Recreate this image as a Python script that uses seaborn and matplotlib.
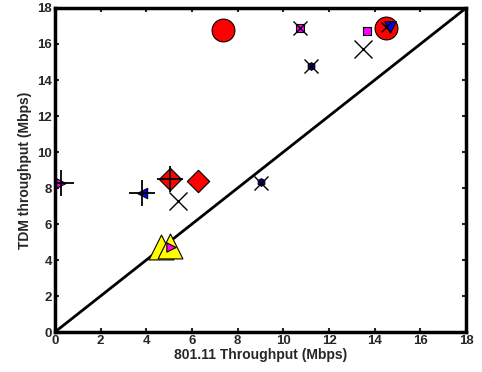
import matplotlib
matplotlib.use("Agg")
import matplotlib.pyplot as plt
import seaborn as sns
import pandas as pd

sns.set_style("white")
plt.rcParams['font.family'] = ['Liberation Sans', 'DejaVu Sans']
plt.rcParams['font.weight'] = 'bold'

# data points: x (802.11 throughput), y (TDM throughput)
red_circle_x = [7.35, 14.5]
red_circle_y = [16.75, 16.9]
red_diamond_x = [6.25, 5.05]
red_diamond_y = [8.4, 8.5]
yellow_tri_x = [4.65, 5.05]
yellow_tri_y = [4.75, 4.8]
blue_left_x = [3.8]
blue_left_y = [7.7]
magenta_right_x = [0.25, 5.1]
magenta_right_y = [8.3, 4.75]
magenta_sq_x = [13.65, 10.75]
magenta_sq_y = [16.7, 16.9]
navy_x = [11.2, 9.0]
navy_y = [14.8, 8.35]
blue_down_x = [14.65]
blue_down_y = [16.95]
cross_x = [13.5, 5.4, 10.75, 11.2, 9.0, 14.5]
cross_y = [15.7, 7.3, 16.9, 14.8, 8.3, 16.95]
cross_size = [13, 13, 10, 10, 10, 7]
plus_x = [5.05, 3.8, 0.25]
plus_y = [8.5, 7.7, 8.3]
diag = [0, 18]

fig = plt.figure(figsize=(4.82, 3.72), dpi=100)
ax = fig.add_axes([0.114, 0.1075, 0.853, 0.871])

ax.plot(diag, diag, color='black', lw=2)

def sc(xs, ys, marker, color, size, ec='black', lw=0.8):
    df = pd.DataFrame({'x': xs, 'y': ys})
    sns.scatterplot(data=df, x='x', y='y', marker=marker, color=color, s=size,
                    edgecolor=ec, linewidth=lw, ax=ax, zorder=3)

sc(red_circle_x, red_circle_y, 'o', 'red', 270)
sc(red_diamond_x, red_diamond_y, 'D', 'red', 130)
sc(yellow_tri_x, yellow_tri_y, '^', 'yellow', 320)
sc(blue_left_x, blue_left_y, '<', 'blue', 55)
sc(magenta_right_x, magenta_right_y, '>', 'magenta', 45)
sc(magenta_sq_x, magenta_sq_y, 's', 'magenta', 30)
sc(navy_x, navy_y, 'h', '#0000aa', 30)
sc(blue_down_x, blue_down_y, 'v', 'blue', 70)

for x, y, s in zip(cross_x, cross_y, cross_size):
    ax.plot([x], [y], marker='x', color='black', ms=s, mew=1, ls='none', zorder=4)
for x, y in zip(plus_x, plus_y):
    ax.plot([x], [y], marker='+', color='black', ms=19, mew=1.3, ls='none', zorder=4)

ax.set_xlim(0, 18)
ax.set_ylim(0, 18)
ax.set_xticks(range(0, 19, 2))
ax.set_yticks(range(0, 19, 2))
ax.set_xlabel('801.11 Throughput (Mbps)', fontsize=10, fontweight='bold', labelpad=1)
ax.set_ylabel('TDM throughput (Mbps)', fontsize=10, fontweight='bold', labelpad=4)
ax.tick_params(direction='in', length=3, width=1.5, labelsize=9.5, top=True, right=True,
               bottom=True, left=True, pad=2)
for lab in ax.get_xticklabels() + ax.get_yticklabels():
    lab.set_fontweight('bold')
for sp in ax.spines.values():
    sp.set_linewidth(2.5)
    sp.set_color('black')

fig.savefig('out.png', dpi=100)
